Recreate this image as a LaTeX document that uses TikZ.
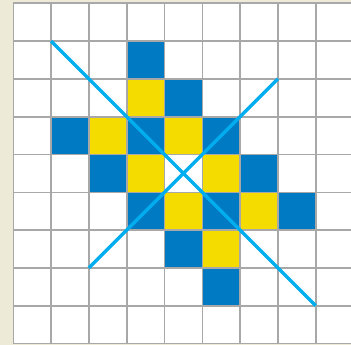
\documentclass[tikz,border=0pt]{standalone}
\definecolor{bgbeige}{HTML}{EDEAD8}
\definecolor{cellblue}{HTML}{007AC3}
\definecolor{cellyellow}{HTML}{F5DC00}
\definecolor{gridgray}{HTML}{A8A8A8}
\definecolor{linecyan}{HTML}{00AEEF}
\tikzset{
  bluecell/.style={fill=cellblue},
  yellowcell/.style={fill=cellyellow},
  gridline/.style={draw=gridgray, line width=1.6pt},
  diag/.style={draw=linecyan, line width=3.4pt}
}
\begin{document}
\begin{tikzpicture}[x=1pt,y=-1pt]
\useasboundingbox (0,0) rectangle (351,345);
\fill[bgbeige] (0,0) rectangle (351,345);
\fill[white] (13.3,3.3) rectangle (351,343.5);
\begin{scope}[shift={(13.3pt,-3.3pt)}, x=37.8pt, y=-37.8pt]
  % blue cells
  \foreach \c/\r in {3/1, 4/2, 1/3, 3/3, 5/3, 2/4, 6/4, 3/5, 5/5, 7/5, 4/6, 5/7}
    \path[bluecell] (\c,\r) rectangle ++(1,1);
  % yellow cells
  \foreach \c/\r in {3/2, 2/3, 4/3, 3/4, 5/4, 4/5, 6/5, 5/6}
    \path[yellowcell] (\c,\r) rectangle ++(1,1);
  % grid
  \foreach \i in {0,...,9} {
    \draw[gridline] (\i,0) -- (\i,9);
    \draw[gridline] (0,\i) -- (9.2,\i);
  }
  \coordinate (a1) at (1,1);
  \coordinate (a2) at (8,8);
  \coordinate (b1) at (2,7);
  \coordinate (b2) at (7,2);
  \draw[diag] (a1) -- (a2);
  \draw[diag] (b1) -- (b2);
\end{scope}
\end{tikzpicture}
\end{document}
